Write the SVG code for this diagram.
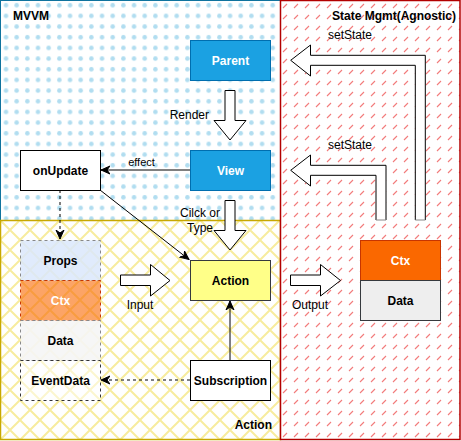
<svg xmlns="http://www.w3.org/2000/svg" width="461" height="441" viewBox="0 0 461 441">
<style>
text{font-family:"Liberation Sans",Arial,sans-serif;font-size:12px;fill:#000}
.b{font-weight:bold}
.w{fill:#fff}
.m{text-anchor:middle}
.e{text-anchor:end}
.ln{fill:none;stroke:#000;stroke-width:1}
.dash{stroke-dasharray:3,3}
.blk{fill:#fff;stroke:#000;stroke-width:1}
.node{fill:#fff;stroke:#000;stroke-width:1}
</style>
<defs>
<pattern id="dots" patternUnits="userSpaceOnUse" width="10.67" height="10.67" x="0.7" y="0">
<circle cx="5.3" cy="5.3" r="2.3" fill="#b1ddf0"/>
</pattern>
<pattern id="cross" patternUnits="userSpaceOnUse" width="20" height="20" x="0" y="0">
<path d="M0,0 L20,20 M20,0 L0,20" stroke="#f7ec9e" stroke-width="2" fill="none"/>
</pattern>
<pattern id="hatch" patternUnits="userSpaceOnUse" width="11" height="11" x="280" y="0">
<path d="M3,8 L7,4" stroke="#f27a7a" stroke-width="1.1" fill="none"/>
</pattern>
<marker id="arr" markerWidth="10" markerHeight="10" refX="9" refY="5" orient="auto" markerUnits="userSpaceOnUse">
<path d="M0,1 L9,5 L0,9 L3,5 Z" fill="#000" stroke="#000" stroke-width="1"/>
</marker>
</defs>

<g id="region-mvvm">
<rect x="0.5" y="0.5" width="280" height="220" fill="#fff"/>
<rect x="0.5" y="0.5" width="280" height="220" fill="url(#dots)" stroke="#10739e" stroke-width="1"/>
<text x="13" y="19.5" class="b">MVVM</text>
</g>
<g id="region-action">
<rect x="0.5" y="220.5" width="280" height="219" fill="#fff"/>
<rect x="0.5" y="220.5" width="280" height="219" fill="url(#cross)" stroke="#c8a800" stroke-width="1.5"/>
<text x="272" y="429" class="b e">Action</text>
</g>
<g id="region-state">
<rect x="280.5" y="0.5" width="179.5" height="439" fill="#fff"/>
<rect x="280.5" y="0.5" width="179.5" height="439" fill="url(#hatch)" stroke="#b20000" stroke-width="1.5"/>
<text x="456" y="19.5" class="b e">State Mgmt(Agnostic)</text>
</g>

<g id="connectors">
<line x1="190" y1="170" x2="101" y2="170" class="ln" marker-end="url(#arr)"/>
<text x="141.5" y="165.5" class="m" style="font-size:11px">effect</text>
<line x1="100" y1="190" x2="189" y2="259.5" class="ln" marker-end="url(#arr)"/>
<line x1="60" y1="190" x2="60" y2="239" class="ln dash" marker-end="url(#arr)"/>
<line x1="230" y1="360" x2="230" y2="301" class="ln" marker-end="url(#arr)"/>
<line x1="190" y1="380" x2="101" y2="380" class="ln dash" marker-end="url(#arr)"/>
</g>

<g id="arrow-render">
<path d="M225,90.5 L235,90.5 L235,120.5 L246,120.5 L230,140 L214,120.5 L225,120.5 Z" class="blk"/>
<text x="209" y="119" class="e">Render</text>
</g>
<g id="arrow-click">
<path d="M225,200.5 L235,200.5 L235,230.5 L246,230.5 L230,250 L214,230.5 L225,230.5 Z" class="blk"/>
<text x="200" y="217" class="m">Cilck or</text>
<text x="200" y="232" class="m">Type</text>
</g>
<g id="arrow-input">
<path d="M120.5,275 L150.5,275 L150.5,264.5 L170,280.5 L150.5,296 L150.5,285.5 L120.5,285.5 Z" class="blk"/>
<text x="140" y="309" class="m">Input</text>
</g>
<g id="arrow-output">
<path d="M290.5,275 L320.5,275 L320.5,264.5 L340.5,280.5 L320.5,296 L320.5,285.5 L290.5,285.5 Z" class="blk"/>
<text x="310" y="309" class="m">Output</text>
</g>
<g id="arrow-setstate-top">
<path d="M415.3,220 L415.3,65.3 L310.5,65.3 L310.5,76 L290.7,60.3 L310.5,45 L310.5,55.3 L425.3,55.3 L425.3,220" class="blk"/>
<line x1="415.3" y1="220" x2="425.3" y2="220" stroke="#888" stroke-width="1"/>
<text x="350" y="39" class="m">setState</text>
</g>
<g id="arrow-setstate-bottom">
<path d="M376,220 L376,175.3 L310.5,175.3 L310.5,186 L290.7,170.3 L310.5,155 L310.5,165.3 L386,165.3 L386,220" class="blk"/>
<line x1="376" y1="220" x2="386" y2="220" stroke="#888" stroke-width="1"/>
<text x="350" y="149" class="m">setState</text>
</g>

<g id="node-parent">
<rect x="190.5" y="40.5" width="80" height="40" fill="#1ba1e2" stroke="#006eaf"/>
<text x="230.5" y="64.5" class="b w m">Parent</text>
</g>
<g id="node-view">
<rect x="190.5" y="150.5" width="80" height="40" fill="#1ba1e2" stroke="#006eaf"/>
<text x="230.5" y="174.5" class="b w m">View</text>
</g>
<g id="node-onupdate">
<rect x="20.5" y="150.5" width="80" height="40" class="node"/>
<text x="60.5" y="174.5" class="b m">onUpdate</text>
</g>
<g id="node-action">
<rect x="190.5" y="260.5" width="80" height="40" fill="#ffff88" stroke="#36393d"/>
<text x="230.5" y="284.5" class="b m">Action</text>
</g>
<g id="node-subscription">
<rect x="190.5" y="360.5" width="80" height="40" class="node"/>
<text x="230.5" y="384.5" class="b m">Subscription</text>
</g>
<g id="node-props">
<rect x="20.5" y="240.5" width="80" height="40" fill="#dae8fc" fill-opacity="0.85" stroke="#888" stroke-dasharray="3,3"/>
<text x="60.5" y="264.5" class="b m">Props</text>
</g>
<g id="node-ctx-left">
<rect x="20.5" y="280.5" width="80" height="40" fill="#fa6800" fill-opacity="0.6" stroke="#c73500" stroke-dasharray="3,3"/>
<text x="60.5" y="304.5" class="b w m">Ctx</text>
</g>
<g id="node-data-left">
<rect x="20.5" y="320.5" width="80" height="40" fill="#f5f5f5" fill-opacity="0.9" stroke="#888" stroke-dasharray="3,3"/>
<text x="60.5" y="344.5" class="b m">Data</text>
</g>
<g id="node-eventdata">
<rect x="20.5" y="360.5" width="80" height="40" fill="#fff" fill-opacity="0.5" stroke="#333" stroke-dasharray="3,3"/>
<text x="60.5" y="384.5" class="b m">EventData</text>
</g>
<g id="node-ctx-right">
<rect x="360.5" y="240.5" width="80" height="40" fill="#fa6800" stroke="#c73500"/>
<text x="400.5" y="264.5" class="b w m">Ctx</text>
</g>
<g id="node-data-right">
<rect x="360.5" y="280.5" width="80" height="40" fill="#eeeeee" stroke="#36393d"/>
<text x="400.5" y="304.5" class="b m">Data</text>
</g>
</svg>
